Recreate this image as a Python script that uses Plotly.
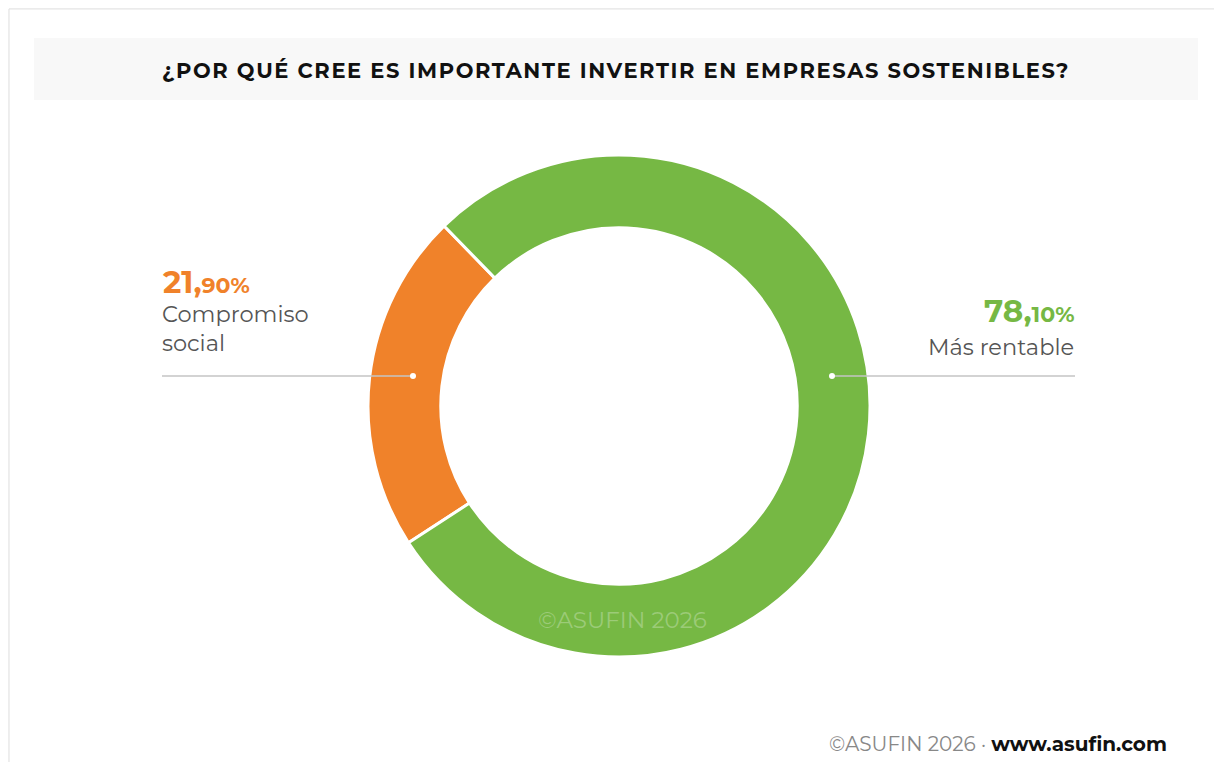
import plotly.graph_objects as go

categories = ["Compromiso social", "Más rentable"]
values = [21.9, 78.1]
colors = ["#F0822A", "#76B844"]
title = "¿POR QUÉ CREE ES IMPORTANTE INVERTIR EN EMPRESAS SOSTENIBLES?"

W, H = 1222, 762
OFF = 8  # page body margin
def px(x): return (x - OFF) / W
def py(y): return 1 - (y - OFF) / H

fig = go.Figure(go.Pie(
    labels=categories, values=values, hole=0.71, sort=False,
    direction="counterclockwise", rotation=-123,
    marker=dict(colors=colors, line=dict(color="white", width=3)),
    textinfo="none", hoverinfo="label+percent", showlegend=False,
    domain=dict(x=[px(368), px(870)], y=[py(657), py(155)]),
))

def split(v):
    s = f"{v:.2f}".replace(".", ",")
    a, b = s.split(",")
    return a + ",", b + "%"

shapes = [
    dict(type="rect", xref="paper", yref="paper", x0=0.0008, x1=1.2, y0=-0.2, y1=0.9988,
         line=dict(color="#dddddd", width=1), fillcolor="rgba(0,0,0,0)", layer="below"),
    dict(type="rect", xref="paper", yref="paper", x0=px(34), x1=px(1198), y0=py(100), y1=py(38),
         line=dict(width=0), fillcolor="#f8f8f8", layer="below"),
    dict(type="line", xref="paper", yref="paper", x0=px(162), x1=px(413), y0=py(376), y1=py(376),
         line=dict(color="#c4c4c4", width=1.5)),
    dict(type="line", xref="paper", yref="paper", x0=px(832), x1=px(1075), y0=py(376), y1=py(376),
         line=dict(color="#c4c4c4", width=1.5)),
    dict(type="circle", xref="paper", yref="paper", x0=px(410), x1=px(416), y0=py(379), y1=py(373),
         line=dict(width=0), fillcolor="white"),
    dict(type="circle", xref="paper", yref="paper", x0=px(829), x1=px(835), y0=py(379), y1=py(373),
         line=dict(width=0), fillcolor="white"),
]

FONT = "Montserrat, Inter, 'Open Sans', sans-serif"
a0, b0 = split(values[0])
a1, b1 = split(values[1])
annotations = [
    dict(text=f"<span style='letter-spacing:1.6px'><b>{title}</b></span>", x=px(616), y=py(71),
         xref="paper", yref="paper", showarrow=False,
         font=dict(family=FONT, size=21, color="#111111"), xanchor="center", yanchor="middle"),
    dict(text=f"<b>{a0}</b><span style='font-size:22px'><b>{b0}</b></span>", x=px(161), y=py(282),
         xref="paper", yref="paper", showarrow=False, xanchor="left", yanchor="middle",
         font=dict(family=FONT, size=31, color=colors[0])),
    dict(text="Compromiso<br>social", x=px(160), y=py(329), xref="paper", yref="paper", showarrow=False,
         xanchor="left", yanchor="middle", align="left",
         font=dict(family=FONT, size=22.5, color="#555555")),
    dict(text=f"<b>{a1}</b><span style='font-size:22px'><b>{b1}</b></span>", x=px(1076), y=py(311),
         xref="paper", yref="paper", showarrow=False, xanchor="right", yanchor="middle",
         font=dict(family=FONT, size=31, color=colors[1])),
    dict(text="Más rentable", x=px(1076), y=py(347), xref="paper", yref="paper", showarrow=False,
         xanchor="right", yanchor="middle", align="right",
         font=dict(family=FONT, size=22.5, color="#555555")),
    dict(text="©ASUFIN 2026", x=px(622), y=py(620), xref="paper", yref="paper", showarrow=False,
         xanchor="center", yanchor="middle",
         font=dict(family=FONT, size=23, color="rgba(255,255,255,0.28)")),
    dict(text="<span style='color:#888888'>©ASUFIN 2026 · </span><b>www.asufin.com</b>",
         x=px(1169), y=py(744), xref="paper", yref="paper", showarrow=False,
         xanchor="right", yanchor="middle",
         font=dict(family=FONT, size=20, color="#111111")),
]

fig.update_layout(
    width=W, height=H, autosize=False,
    margin=dict(l=0, r=0, t=0, b=0),
    paper_bgcolor="white", plot_bgcolor="white",
    shapes=shapes, annotations=annotations,
)
fig.write_html("out.html")
